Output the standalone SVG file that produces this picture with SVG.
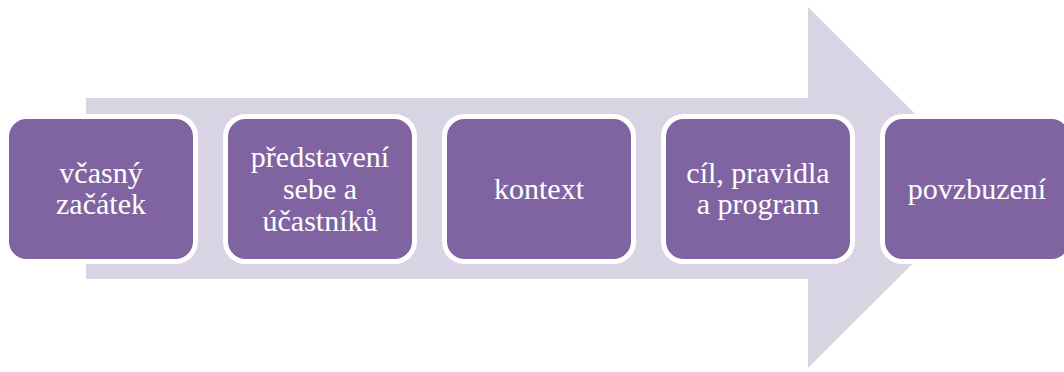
<svg xmlns="http://www.w3.org/2000/svg" width="1064" height="372" viewBox="0 0 1064 372">
<style>
.box{fill:#8064A2;stroke:#FFFFFF;stroke-width:5}
.lbl{font-family:"Liberation Serif","Times New Roman",serif;font-size:30px;fill:#FFFFFF;text-anchor:middle}
</style>
<rect width="1064" height="372" fill="#FFFFFF"/>
<g id="arrow">
<polygon points="86,98 808,98 808,7 989,187.5 808,368 808,279 86,279" fill="#D8D4E3"/>
</g>
<g id="connectors"></g>
<g id="n1">
<rect class="box" x="6.5" y="116.5" width="189" height="145" rx="20"/>
<text class="lbl" x="101" y="183">včasný</text>
<text class="lbl" x="101" y="214">začátek</text>
</g>
<g id="n2">
<rect class="box" x="225.5" y="116.5" width="189" height="145" rx="20"/>
<text class="lbl" x="320" y="167">představení</text>
<text class="lbl" x="320" y="199">sebe a</text>
<text class="lbl" x="320" y="231">účastníků</text>
</g>
<g id="n3">
<rect class="box" x="444.5" y="116.5" width="189" height="145" rx="20"/>
<text class="lbl" x="539" y="199">kontext</text>
</g>
<g id="n4">
<rect class="box" x="663.5" y="116.5" width="189" height="145" rx="20"/>
<text class="lbl" x="758" y="183">cíl, pravidla</text>
<text class="lbl" x="758" y="214">a program</text>
</g>
<g id="n5">
<rect class="box" x="882.5" y="116.5" width="189" height="145" rx="20"/>
<text class="lbl" x="977" y="199">povzbuzení</text>
</g>
</svg>
